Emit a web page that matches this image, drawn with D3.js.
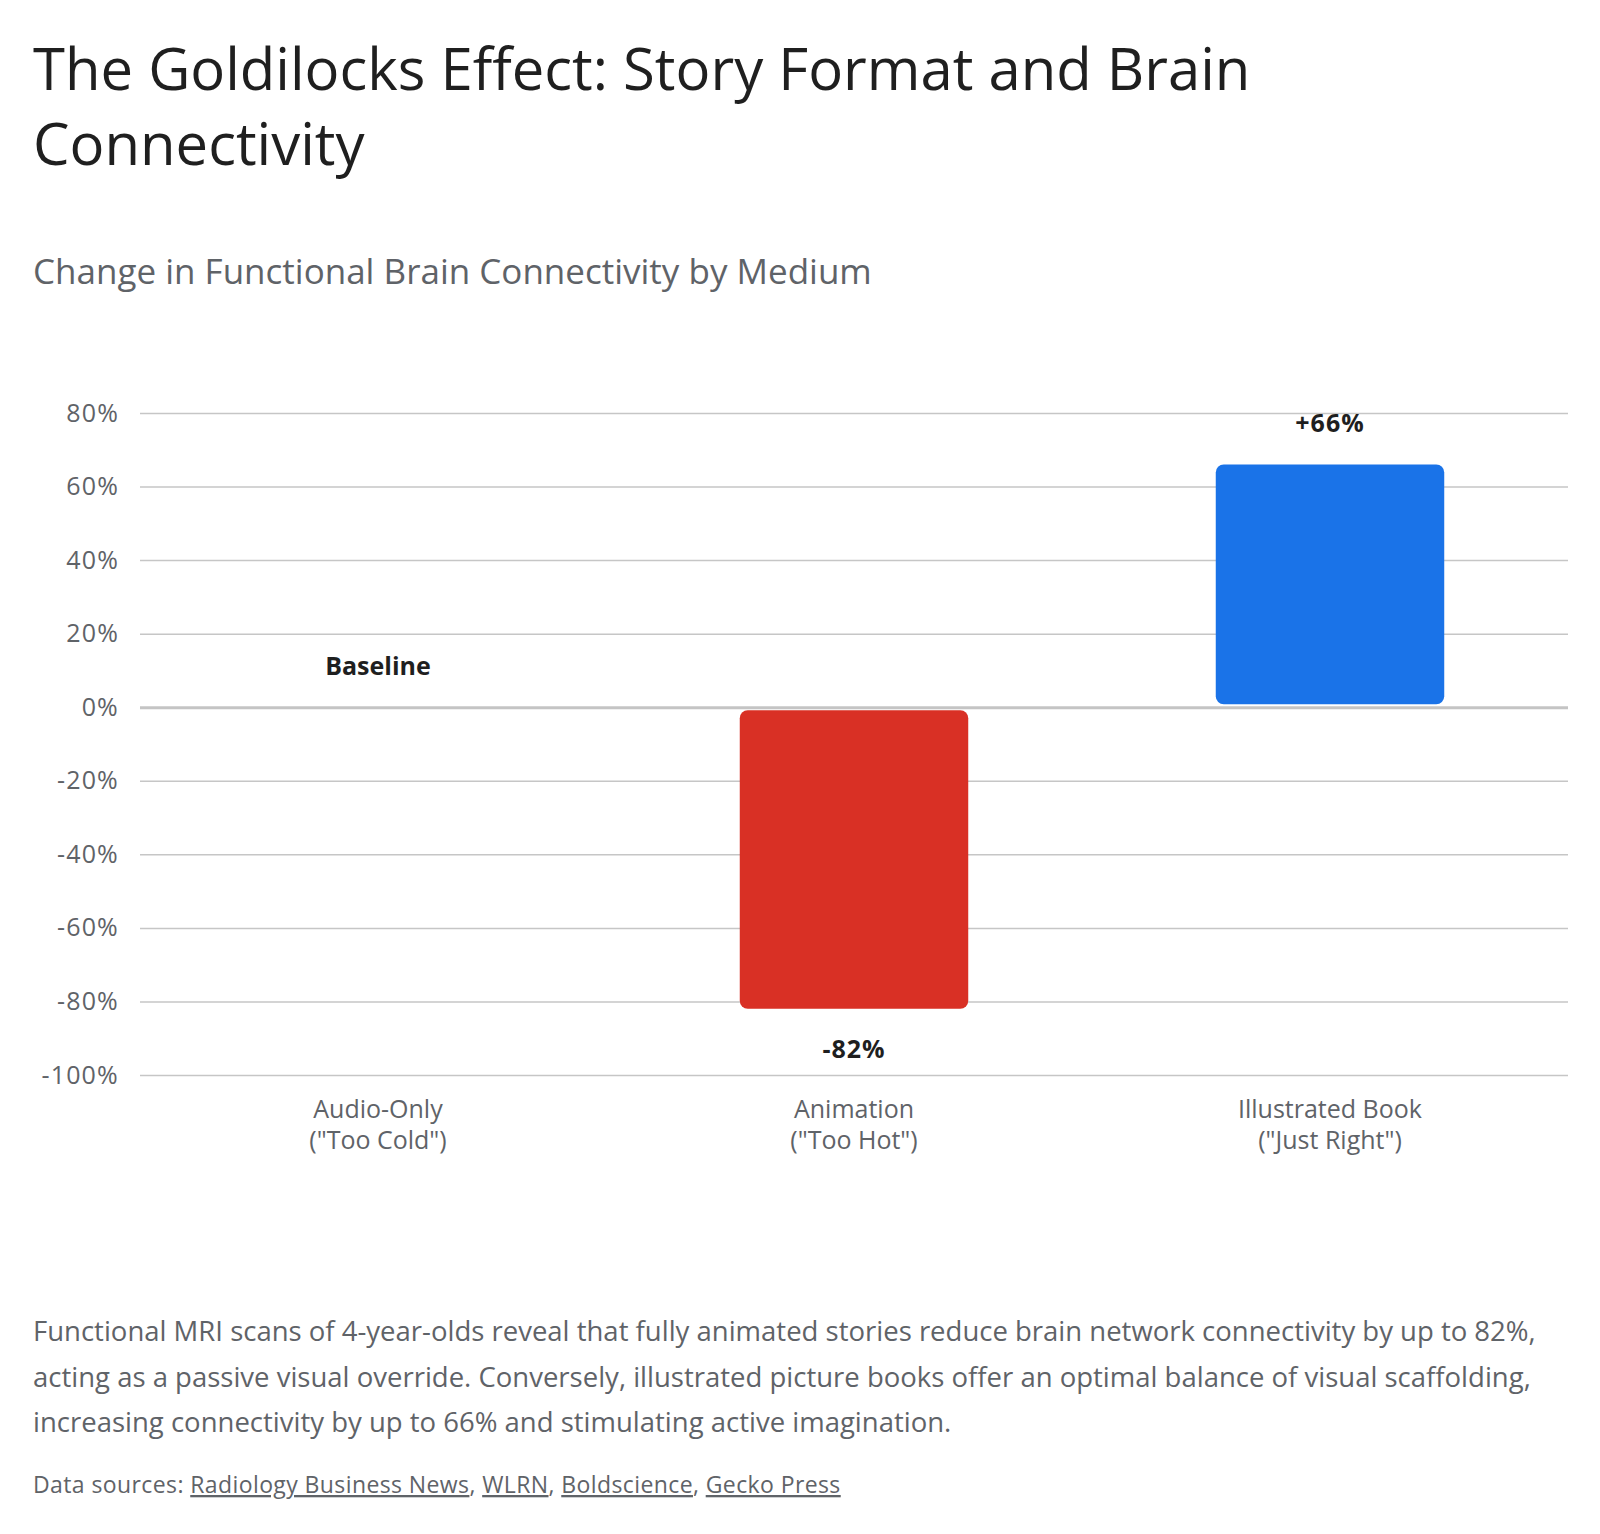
<!DOCTYPE html>
<html>
<head>
<meta charset="utf-8">
<script src="https://cdn.jsdelivr.net/npm/d3@7"></script>
<style>
    body { margin: 0; background: #fff; }
    text { font-family: "Open Sans", Roboto, sans-serif; }
    .grid line { stroke: #c6c6c6; stroke-width: 1.5; }
    .grid path { display: none; }
    .grid text { fill: #5f6368; font-size: 25px; letter-spacing: 1.2px; }
</style>
</head>
<body>
<div id="chart"></div>
<script>
// Change in functional brain connectivity by story medium

const categories = ["Audio-Only", "Animation", "Illustrated Book"];
const subLabels = ['("Too Cold")', '("Too Hot")', '("Just Right")'];
const values = [0, -82, 66];
const valueLabels = ["Baseline", "-82%", "+66%"];
const yTicks = [80, 60, 40, 20, 0, -20, -40, -60, -80, -100];
const barColors = ["#9aa0a6", "#d93025", "#1a73e8"];

const noteLines = [
    "Functional MRI scans of 4-year-olds reveal that fully animated stories reduce brain network connectivity by up to 82%,",
    "acting as a passive visual override. Conversely, illustrated picture books offer an optimal balance of visual scaffolding,",
    "increasing connectivity by up to 66% and stimulating active imagination."
];
const sources = ["Radiology Business News", "WLRN", "Boldscience", "Gecko Press"];

let W = 1600, H = 1534;
let margin = {left: 140, right: 32, top: 413, bottom: 459};

let svg = d3.select("#chart").append("svg")
    .attr("width", W)
    .attr("height", H);

// titles
let title = svg.append("text")
    .attr("x", 33)
    .attr("y", 90)
    .attr("fill", "#1f1f1f")
    .style("font-size", "58px");
title.append("tspan").attr("x", 33).text("The Goldilocks Effect: Story Format and Brain");
title.append("tspan").attr("x", 33).attr("dy", 75).text("Connectivity");

svg.append("text")
    .attr("x", 33)
    .attr("y", 284)
    .attr("fill", "#5f6368")
    .style("font-size", "35px")
    .text("Change in Functional Brain Connectivity by Medium");

// scales
let x = d3.scaleBand()
    .domain(categories)
    .range([margin.left, W - margin.right])
    .paddingInner(0.52)
    .paddingOuter(0.26);

let y = d3.scaleLinear()
    .domain([-100, 80])
    .range([H - margin.bottom, margin.top]);

// rows for the bars
let rows = categories.map((c, i) => ({cat: c, value: values[i], label: valueLabels[i], color: barColors[i]}));

// grid + y labels
let grid = svg.append("g")
    .attr("class", "grid")
    .attr("transform", "translate(" + margin.left + ",0)")
    .call(d3.axisLeft(y)
        .tickValues(yTicks)
        .tickSize(-(W - margin.left - margin.right))
        .tickPadding(21)
        .tickFormat(d => d + "%"));

grid.selectAll(".tick")
    .filter(d => d === 0)
    .select("line")
    .style("stroke-width", 3)
    .style("stroke", "#c4c4c4");

// bars (small gap off the zero line)
let gap = 3;
svg.selectAll(".bar")
    .data(rows.filter(d => d.value !== 0))
    .enter()
    .append("rect")
    .attr("class", "bar")
    .attr("x", d => x(d.cat))
    .attr("width", x.bandwidth())
    .attr("y", d => d.value > 0 ? y(d.value) : y(0) + gap)
    .attr("height", d => Math.abs(y(d.value) - y(0)) - gap)
    .attr("rx", 8)
    .attr("fill", d => d.color);

// value labels
svg.selectAll(".value-label")
    .data(rows)
    .enter()
    .append("text")
    .attr("class", "value-label")
    .attr("x", d => x(d.cat) + x.bandwidth() / 2)
    .attr("y", d => d.value >= 0 ? y(d.value) - 32 : y(d.value) + 49)
    .attr("text-anchor", "middle")
    .attr("fill", "#1f1f1f")
    .style("font-size", "25px")
    .style("font-weight", "bold")
    .style("letter-spacing", d => d.value === 0 ? "0px" : "1px")
    .text(d => d.label);

// category labels
let catLabels = svg.selectAll(".cat-label")
    .data(categories)
    .enter()
    .append("text")
    .attr("class", "cat-label")
    .attr("x", d => x(d) + x.bandwidth() / 2)
    .attr("y", y(-100) + 43)
    .attr("text-anchor", "middle")
    .attr("fill", "#5f6368")
    .style("font-size", "25px");

catLabels.append("tspan")
    .attr("x", d => x(d) + x.bandwidth() / 2)
    .text(d => d);
catLabels.append("tspan")
    .attr("x", d => x(d) + x.bandwidth() / 2)
    .attr("dy", 31)
    .text((d, i) => subLabels[i]);

// note
let note = svg.append("text")
    .attr("x", 33)
    .attr("y", 1341)
    .attr("fill", "#5f6368")
    .style("font-size", "27.5px");
noteLines.forEach(function(line, i){
    note.append("tspan")
        .attr("x", 33)
        .attr("dy", i === 0 ? 0 : 45.5)
        .text(line);
});

// sources
let src = svg.append("text")
    .attr("x", 33)
    .attr("y", 1493)
    .attr("fill", "#5f6368")
    .style("font-size", "23px")
    .style("letter-spacing", "0.4px");
src.append("tspan").text("Data sources: ");
sources.forEach(function(s, i){
    src.append("tspan")
        .style("text-decoration", "underline")
        .text(s);
    if (i < sources.length - 1) src.append("tspan").text(", ");
});
</script>
</body>
</html>
